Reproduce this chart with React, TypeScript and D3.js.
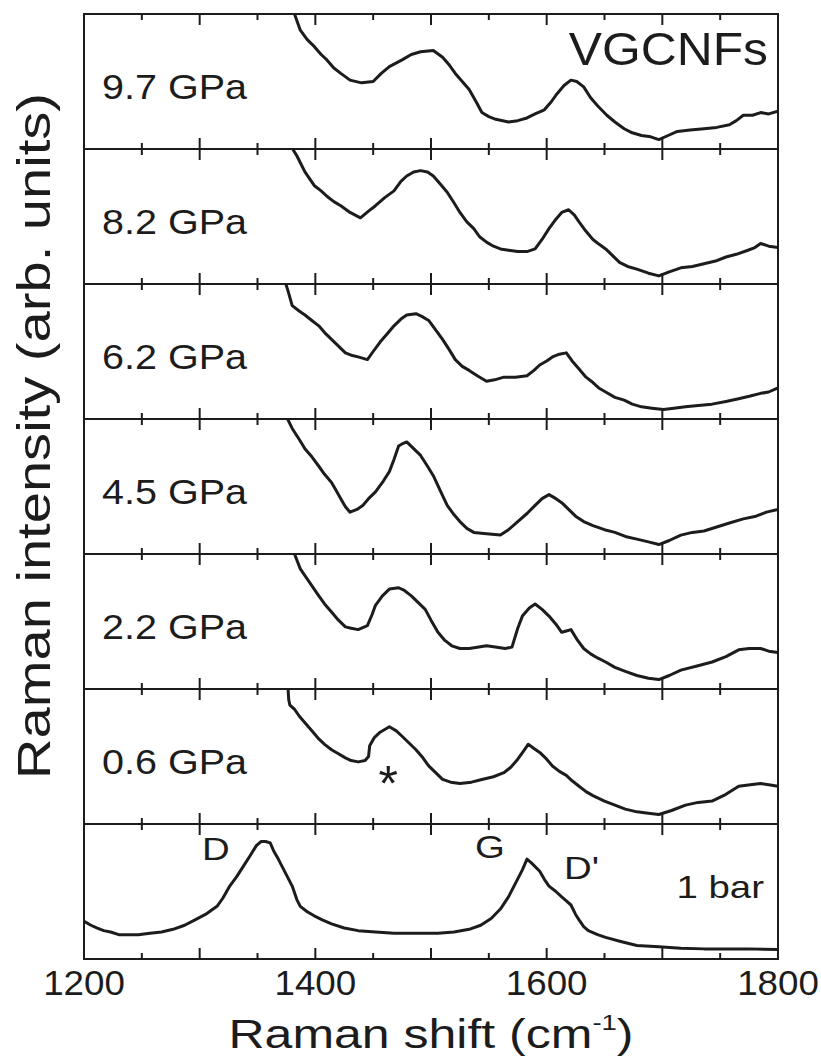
import React from "react";
import * as d3 from "d3";

// ---- axis ticks ----
const xMajorTicks = [1200, 1300, 1400, 1500, 1600, 1700, 1800];
const xMinorTicks = [1250, 1350, 1450, 1550, 1650, 1750];
const xTickLabels = [1200, 1400, 1600, 1800];

// ---- panel labels (top to bottom) ----
const panelLabels = ["9.7 GPa", "8.2 GPa", "6.2 GPa", "4.5 GPa", "2.2 GPa", "0.6 GPa", "1 bar"];

// ---- spectra: [Raman shift (cm-1), intensity (arb., 0-100 within panel)] ----
const gpa97: [number, number][] = [
  [1376, 112], [1382, 100], [1387, 88], [1393, 81], [1399, 76], [1405, 70], [1410, 66], [1416, 60], [1422, 56],
  [1430, 51], [1440, 49], [1450, 50], [1457, 56], [1464, 61], [1475, 66], [1483, 70], [1491, 72], [1502, 73],
  [1510, 68], [1516, 62], [1521, 56], [1527, 50], [1533, 44], [1539, 35], [1544, 27], [1550, 24], [1556, 22],
  [1567, 20], [1575, 21], [1583, 23], [1590, 26], [1598, 29], [1604, 35], [1609, 41], [1615, 47], [1621, 51],
  [1626, 50], [1632, 46], [1638, 38], [1644, 32], [1652, 25], [1659, 20], [1667, 15], [1674, 12], [1682, 10],
  [1690, 9], [1697, 7], [1705, 10], [1713, 13], [1724, 14], [1736, 15], [1747, 16], [1758, 18], [1764, 21],
  [1770, 25], [1778, 25], [1785, 27], [1792, 26], [1800, 28],
];
const gpa82: [number, number][] = [
  [1376, 106], [1384, 95], [1391, 83], [1399, 73], [1405, 69], [1410, 65], [1416, 61], [1422, 58], [1430, 53],
  [1439, 49], [1446, 54], [1452, 58], [1460, 64], [1468, 69], [1474, 76], [1479, 80], [1485, 83], [1491, 84],
  [1497, 83], [1502, 80], [1508, 74], [1514, 68], [1520, 60], [1525, 53], [1531, 46], [1537, 41], [1542, 35],
  [1548, 31], [1554, 28], [1560, 26], [1567, 25], [1575, 24], [1583, 24], [1590, 26], [1596, 33], [1602, 41],
  [1608, 48], [1613, 53], [1619, 55], [1624, 51], [1628, 46], [1634, 39], [1640, 33], [1646, 29], [1651, 26],
  [1657, 21], [1663, 16], [1670, 13], [1678, 11], [1688, 8], [1697, 6], [1706, 9], [1716, 12], [1726, 13],
  [1736, 15], [1746, 17], [1755, 20], [1764, 22], [1774, 25], [1780, 27], [1785, 30], [1792, 28], [1800, 27],
];
const gpa62: [number, number][] = [
  [1373, 104], [1376, 96], [1380, 84], [1386, 80], [1391, 77], [1397, 73], [1403, 69], [1408, 64], [1414, 59],
  [1420, 54], [1426, 49], [1432, 47], [1437, 46], [1445, 44], [1450, 50], [1456, 57], [1462, 63], [1468, 69],
  [1474, 74], [1479, 77], [1487, 78], [1492, 76], [1498, 73], [1504, 66], [1510, 59], [1516, 51], [1521, 44],
  [1527, 39], [1533, 36], [1540, 32], [1548, 28], [1555, 29], [1563, 31], [1573, 31], [1583, 32], [1589, 36],
  [1594, 40], [1600, 43], [1605, 46], [1611, 48], [1617, 49], [1622, 43], [1628, 37], [1634, 31], [1640, 27],
  [1645, 23], [1651, 20], [1659, 16], [1667, 14], [1674, 11], [1682, 9], [1691, 8], [1701, 7], [1710, 8],
  [1720, 9], [1731, 10], [1743, 11], [1755, 13], [1766, 15], [1776, 17], [1785, 19], [1792, 20], [1800, 23],
];
const gpa45: [number, number][] = [
  [1373, 105], [1376, 100], [1380, 93], [1386, 85], [1391, 78], [1397, 72], [1403, 65], [1408, 59], [1414, 53],
  [1418, 47], [1422, 41], [1426, 35], [1430, 31], [1436, 33], [1441, 36], [1446, 41], [1452, 46], [1458, 53],
  [1464, 61], [1468, 70], [1472, 80], [1476, 82], [1479, 83], [1485, 78], [1491, 73], [1497, 65], [1502, 58],
  [1508, 47], [1514, 36], [1520, 29], [1525, 24], [1531, 19], [1537, 16], [1548, 15], [1560, 14], [1567, 18],
  [1575, 24], [1583, 30], [1590, 36], [1596, 41], [1602, 44], [1608, 41], [1613, 38], [1619, 33], [1625, 28],
  [1632, 24], [1640, 21], [1650, 18], [1659, 16], [1668, 13], [1678, 11], [1688, 9], [1697, 7], [1706, 10],
  [1716, 14], [1726, 16], [1736, 17], [1747, 20], [1758, 23], [1770, 26], [1781, 28], [1790, 31], [1800, 33],
];
const gpa22: [number, number][] = [
  [1379, 106], [1382, 100], [1387, 89], [1391, 84], [1395, 79], [1399, 74], [1403, 69], [1408, 63], [1414, 57],
  [1420, 51], [1426, 46], [1431, 45], [1437, 44], [1445, 47], [1449, 55], [1452, 62], [1458, 69], [1464, 74],
  [1472, 75], [1477, 73], [1483, 69], [1489, 64], [1495, 59], [1500, 51], [1506, 42], [1512, 36], [1518, 32],
  [1525, 30], [1533, 30], [1540, 31], [1548, 32], [1557, 31], [1564, 30], [1570, 31], [1575, 45], [1579, 54],
  [1585, 60], [1590, 63], [1596, 59], [1602, 54], [1608, 48], [1613, 42], [1617, 43], [1621, 44], [1626, 37],
  [1632, 30], [1638, 26], [1644, 23], [1651, 20], [1659, 16], [1668, 13], [1678, 10], [1688, 8], [1697, 7],
  [1706, 10], [1716, 14], [1730, 17], [1743, 20], [1755, 24], [1766, 29], [1775, 30], [1785, 30], [1792, 28],
  [1800, 27],
];
const gpa06: [number, number][] = [
  [1376, 106], [1377, 92], [1378, 88], [1382, 85], [1386, 80], [1391, 75], [1397, 69], [1403, 63], [1408, 59],
  [1414, 55], [1420, 52], [1426, 49], [1431, 47], [1437, 46], [1443, 47], [1446, 50], [1447, 58], [1451, 64],
  [1456, 68], [1460, 70], [1464, 72], [1470, 69], [1475, 65], [1481, 60], [1487, 55], [1493, 49], [1498, 43],
  [1504, 38], [1510, 33], [1517, 31], [1525, 30], [1535, 31], [1544, 33], [1554, 35], [1563, 38], [1569, 42],
  [1575, 48], [1580, 54], [1584, 59], [1589, 56], [1594, 53], [1600, 48], [1605, 43], [1611, 39], [1617, 36],
  [1622, 32], [1628, 28], [1634, 24], [1640, 21], [1650, 17], [1659, 14], [1668, 11], [1678, 9], [1688, 8],
  [1697, 7], [1708, 10], [1720, 14], [1731, 16], [1743, 17], [1755, 22], [1766, 28], [1776, 29], [1785, 30],
  [1792, 29], [1800, 28],
];
const bar1: [number, number][] = [
  [1200, 28], [1206, 25], [1211, 23], [1217, 21], [1223, 20], [1230, 18], [1238, 18], [1247, 18], [1257, 19],
  [1267, 20], [1277, 22], [1287, 25], [1296, 29], [1305, 33], [1315, 39], [1320, 45], [1326, 54], [1332, 61],
  [1338, 69], [1344, 77], [1349, 84], [1353, 87], [1357, 87], [1361, 86], [1364, 80], [1368, 74], [1374, 64],
  [1380, 54], [1384, 44], [1387, 39], [1393, 35], [1399, 32], [1406, 29], [1414, 26], [1425, 23], [1437, 21],
  [1452, 20], [1468, 19], [1487, 19], [1506, 19], [1520, 20], [1533, 22], [1543, 25], [1552, 30], [1560, 37],
  [1567, 46], [1573, 56], [1579, 66], [1583, 74], [1587, 71], [1594, 65], [1598, 59], [1602, 54], [1608, 50],
  [1613, 46], [1617, 43], [1621, 40], [1625, 33], [1628, 29], [1632, 24], [1636, 21], [1644, 18], [1651, 16],
  [1664, 13], [1678, 10], [1697, 9], [1716, 8], [1736, 7.5], [1755, 7.5], [1774, 7.5], [1800, 7],
];
const spectra = [gpa97, gpa82, gpa62, gpa45, gpa22, gpa06, bar1];

// ---- peak annotations in the 1 bar panel ----
const peakNames = ["D", "G", "D'"];
const peakLabelShift = [1302, 1538, 1615];
const peakLabelLevel = [73, 75, 59];
const starShift = 1463;
const starLevel = 38;

const W = 821;
const H = 1063;
const LEFT = 84;
const RIGHT = 778;
const TOP = 14;
const PANEL_H = 135;
const INK = "#1c1c1c";
const FONT = "'Liberation Sans', Arial, Helvetica, sans-serif";

export default function App() {
  const x = d3.scaleLinear().domain([1200, 1800]).range([LEFT, RIGHT]);
  const nPanels = spectra.length;
  const bottom = TOP + nPanels * PANEL_H;

  return (
    <svg
      width={W}
      height={H}
      viewBox={`0 0 ${W} ${H}`}
      style={{ position: "absolute", left: 0, top: 0, background: "#fff" }}
      fontFamily={FONT}
    >
      <defs>
        {spectra.map((_, i) => (
          <clipPath id={`clip${i}`} key={i}>
            <rect x={LEFT} y={TOP + i * PANEL_H} width={RIGHT - LEFT} height={PANEL_H} />
          </clipPath>
        ))}
      </defs>

      {spectra.map((data, i) => {
        const y0 = TOP + i * PANEL_H;
        const y = d3.scaleLinear().domain([0, 100]).range([y0 + PANEL_H, y0]);
        const line = d3
          .line<[number, number]>()
          .x((d) => x(d[0]))
          .y((d) => y(d[1]));
        return (
          <g key={i}>
            <path
              d={line(data) || ""}
              fill="none"
              stroke={INK}
              strokeWidth={3}
              strokeLinejoin="round"
              clipPath={`url(#clip${i})`}
            />
            {xMajorTicks.map((t) => (
              <g key={`M${t}`}>
                <line x1={x(t)} x2={x(t)} y1={y0} y2={y0 + 11} stroke={INK} strokeWidth={2} />
                <line x1={x(t)} x2={x(t)} y1={y0 + PANEL_H} y2={y0 + PANEL_H - 11} stroke={INK} strokeWidth={2} />
              </g>
            ))}
            {xMinorTicks.map((t) => (
              <g key={`m${t}`}>
                <line x1={x(t)} x2={x(t)} y1={y0} y2={y0 + 6} stroke={INK} strokeWidth={2} />
                <line x1={x(t)} x2={x(t)} y1={y0 + PANEL_H} y2={y0 + PANEL_H - 6} stroke={INK} strokeWidth={2} />
              </g>
            ))}
            {i < nPanels - 1 ? (
              <text transform={`translate(102,${y0 + 85}) scale(1.13,1)`} fontSize={35} fill={INK}>
                {panelLabels[i]}
              </text>
            ) : (
              <text
                transform={`translate(764,${y0 + 74}) scale(1.2,1)`}
                fontSize={32}
                fill={INK}
                textAnchor="end"
              >
                {panelLabels[i]}
              </text>
            )}
            {i < nPanels - 1 && (
              <line x1={LEFT} x2={RIGHT} y1={y0 + PANEL_H} y2={y0 + PANEL_H} stroke={INK} strokeWidth={2} />
            )}
          </g>
        );
      })}

      {/* frame */}
      <rect x={LEFT} y={TOP} width={RIGHT - LEFT} height={bottom - TOP} fill="none" stroke={INK} strokeWidth={2} />

      {/* sample name */}
      <text transform={`translate(768,65) scale(1.06,1)`} fontSize={47} fill={INK} textAnchor="end">
        VGCNFs
      </text>

      {/* peak labels in 1 bar panel */}
      {peakNames.map((n, k) => {
        const y0 = TOP + (nPanels - 1) * PANEL_H;
        const y = d3.scaleLinear().domain([0, 100]).range([y0 + PANEL_H, y0]);
        return (
          <text
            key={n}
            transform={`translate(${x(peakLabelShift[k])},${y(peakLabelLevel[k])}) scale(1.2,1)`}
            fontSize={32}
            fill={INK}
          >
            {n}
          </text>
        );
      })}

      {/* asterisk in 0.6 GPa panel */}
      {(() => {
        const y0 = TOP + 5 * PANEL_H;
        const y = d3.scaleLinear().domain([0, 100]).range([y0 + PANEL_H, y0]);
        return (
          <text x={x(starShift)} y={y(starLevel) + 28} fontSize={50} fill={INK} textAnchor="middle">
            *
          </text>
        );
      })()}

      {/* x tick labels */}
      {xTickLabels.map((t) => (
        <text
          key={t}
          transform={`translate(${x(t)},995) scale(1.05,1)`}
          fontSize={35}
          fill={INK}
          textAnchor="middle"
        >
          {t}
        </text>
      ))}

      {/* x axis title */}
      <text transform={`translate(431,1048) scale(1.25,1)`} fontSize={40} fill={INK} textAnchor="middle">
        Raman shift (cm
        <tspan fontSize={22} dy={-18}>-1</tspan>
        <tspan dy={18}>)</tspan>
      </text>

      {/* y axis title */}
      <text transform={`translate(50,436) rotate(-90) scale(1.22,1)`} fontSize={46} fill={INK} textAnchor="middle">
        Raman intensity (arb. units)
      </text>
    </svg>
  );
}
